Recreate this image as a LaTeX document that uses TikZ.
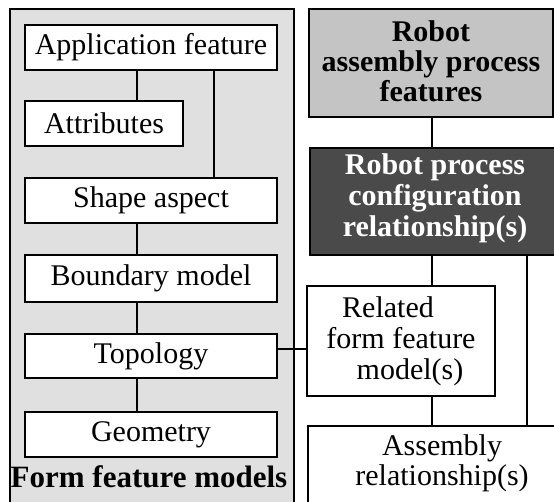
\documentclass[tikz,border=0pt]{standalone}
\usepackage{fontspec}
\setmainfont{Liberation Serif}
\definecolor{panelgray}{HTML}{E0E0E0}
\definecolor{featgray}{HTML}{C4C4C4}
\definecolor{procdark}{HTML}{4A4A4A}
\begin{document}
\begin{tikzpicture}[x=1pt,y=-1pt,
  box/.style={draw=black, line width=2pt, fill=white, inner sep=0pt,
    align=center, font=\fontsize{30}{31}\selectfont},
  boldbox/.style={box, font=\fontsize{30}{31}\selectfont\bfseries},
  link/.style={draw=black, line width=2pt}]
\useasboundingbox (0,0) rectangle (554,501);
\clip (0,0) rectangle (554,501);

% form feature model column
\node[draw=black, line width=2pt, fill=panelgray, inner sep=0pt,
  anchor=north west, minimum width=284pt, minimum height=540pt] (panel) at (9,8) {};
\node[box, minimum width=252pt, minimum height=45pt] (app)   at (151,47.5)  {Application feature};
\node[box, minimum width=158pt, minimum height=45pt] (attr)  at (104,123.5) {Attributes};
\node[box, minimum width=252pt, minimum height=45pt] (shape) at (151,200.5) {Shape aspect};
\node[box, minimum width=252pt, minimum height=47pt] (bound) at (151,278.5) {Boundary model};
\node[box, minimum width=252pt, minimum height=44pt] (topo)  at (151,356)   {Topology};
\node[box, minimum width=252pt, minimum height=45pt] (geom)  at (151,434.5) {Geometry};
\node[anchor=base, inner sep=0pt, font=\fontsize{31}{31}\selectfont\bfseries]
  (fflabel) at (149,487) {Form feature models};

% robot process column
\node[boldbox, fill=featgray, anchor=north west, minimum width=244pt,
  font=\fontsize{30}{30}\selectfont\bfseries] (rapf) at (308,8)
  {\rule{0pt}{32pt}Robot\\assembly process\\features\rule[-16pt]{0pt}{16pt}};
\node[boldbox, fill=procdark, text=white, anchor=north west,
  minimum width=250pt] (rpcr) at (309,147)
  {\rule{0pt}{26pt}Robot process\\configuration\\relationship(s)\rule[-19pt]{0pt}{19pt}};
\node[box, minimum width=188pt, minimum height=110pt] (rel) at (401,341)
  {Related\hspace*{26pt}\\form feature\\\hspace*{18pt}model(s)};
\node[box, anchor=north west, minimum width=268pt,
  font=\fontsize{30}{30}\selectfont] (asm) at (307,425)
  {\rule{0pt}{29pt}Assembly\\relationship(s)\rule[-90pt]{0pt}{90pt}};

% connector positions
\coordinate (xa) at (137,0);
\coordinate (xb) at (214,0);
\coordinate (xc) at (432,0);
\coordinate (xd) at (527,0);
\coordinate (yt) at (0,349);

\draw[link] (app.south -| xa) -- (attr.north -| xa);
\draw[link] (app.south -| xb) -- (shape.north -| xb);
\draw[link] (shape.south -| xa) -- (bound.north -| xa);
\draw[link] (bound.south -| xa) -- (topo.north -| xa);
\draw[link] (topo.south -| xa) -- (geom.north -| xa);
\draw[link] (topo.east |- yt) -- (rel.west |- yt);
\draw[link] (rapf.south -| xc) -- (rpcr.north -| xc);
\draw[link] (rpcr.south -| xc) -- (rel.north -| xc);
\draw[link] (rpcr.south -| xd) -- (asm.north -| xd);
\draw[link] (rel.south -| xc) -- (asm.north -| xc);
\end{tikzpicture}
\end{document}
